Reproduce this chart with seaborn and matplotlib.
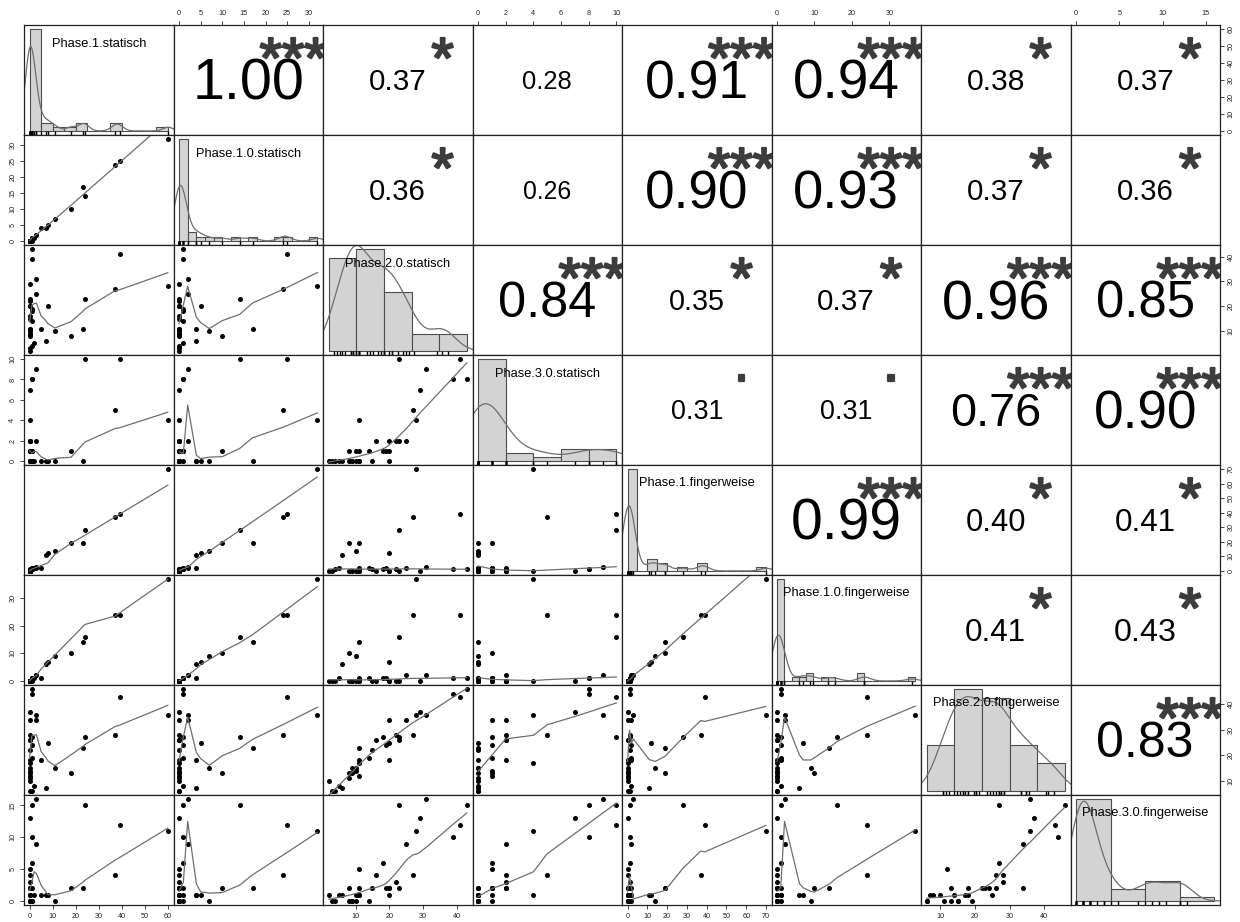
import numpy as np
import pandas as pd
import matplotlib
matplotlib.use("Agg")
import matplotlib.pyplot as plt
import matplotlib.patheffects as pe
from matplotlib.textpath import TextPath
from matplotlib.font_manager import FontProperties
import seaborn as sns

# values (34 participants, counts)
phase_1_statisch = [60, 39, 37, 24, 23, 18, 11, 8, 7, 5,
                    1, 1, 3, 0, 0, 3, 0, 0, 0, 0,
                    1, 1, 0, 0, 1, 0, 0, 0, 1, 0, 0, 0, 0, 2]
phase_1_0_statisch = [32, 25, 24, 14, 17, 10, 7, 5, 4, 4,
                      1, 1, 2, 0, 0, 2, 0, 0, 0, 0,
                      1, 1, 0, 0, 1, 0, 0, 0, 0, 0, 0, 0, 0, 1]
phase_2_0_statisch = [28, 41, 27, 23, 11, 8, 10, 20, 6, 11,
                      43, 39, 31, 29, 11, 25, 23, 22, 16, 20,
                      19, 18, 20, 10, 14, 11, 2, 3, 4, 8, 9, 9, 15, 5]
phase_3_0_statisch = [4, 10, 5, 10, 0, 1, 0, 0, 0, 0,
                      8, 8, 9, 7, 4, 2, 2, 2, 2, 2,
                      1, 1, 1, 1, 1, 1, 0, 0, 0, 0, 0, 0, 0, 0]
phase_1_fingerweise = [70, 39, 37, 28, 19, 19, 14, 12, 11, 2,
                       1, 1, 3, 0, 0, 2, 0, 1, 0, 0,
                       2, 1, 0, 0, 2, 0, 0, 0, 1, 0, 0, 0, 1, 2]
phase_1_0_fingerweise = [37, 24, 24, 16, 14, 10, 9, 7, 6, 1,
                         1, 1, 2, 0, 0, 2, 0, 0, 0, 0,
                         1, 1, 0, 0, 1, 0, 0, 0, 0, 0, 0, 0, 0, 1]
phase_2_0_fingerweise = [36, 43, 28, 27, 23, 13, 15, 25, 7, 18,
                         46, 44, 36, 37, 17, 34, 26, 28, 26, 18,
                         24, 27, 34, 14, 19, 12, 10, 6, 6, 11, 13, 15, 22, 8]
phase_3_0_fingerweise = [11, 12, 4, 15, 2, 2, 0, 1, 1, 1,
                         15, 10, 16, 13, 1, 9, 2, 3, 4, 2,
                         2, 6, 2, 1, 0, 5, 1, 0, 0, 0, 0, 0, 2, 1]

columns = ["Phase.1.statisch", "Phase.1.0.statisch", "Phase.2.0.statisch",
           "Phase.3.0.statisch", "Phase.1.fingerweise", "Phase.1.0.fingerweise",
           "Phase.2.0.fingerweise", "Phase.3.0.fingerweise"]

# printed correlation coefficients (upper triangle, row by row) and significance
cor_row1 = [1.00, 0.37, 0.28, 0.91, 0.94, 0.38, 0.37]
cor_row2 = [0.36, 0.26, 0.90, 0.93, 0.37, 0.36]
cor_row3 = [0.84, 0.35, 0.37, 0.96, 0.85]
cor_row4 = [0.31, 0.31, 0.76, 0.90]
cor_row5 = [0.99, 0.40, 0.41]
cor_row6 = [0.41, 0.43]
cor_row7 = [0.83]
sig_row1 = ["***", "*", "", "***", "***", "*", "*"]
sig_row2 = ["*", "", "***", "***", "*", "*"]
sig_row3 = ["***", "*", "*", "***", "***"]
sig_row4 = [".", ".", "***", "***"]
sig_row5 = ["***", "*", "*"]
sig_row6 = ["*", "*"]
sig_row7 = ["***"]

# histogram bin widths and axis tick steps per variable
bin_width = [5, 2, 10, 2, 5, 2, 10, 5]
tick_step = [10, 5, 10, 2, 10, 10, 10, 5]

df = pd.DataFrame(dict(zip(columns, [phase_1_statisch, phase_1_0_statisch, phase_2_0_statisch,
                                     phase_3_0_statisch, phase_1_fingerweise, phase_1_0_fingerweise,
                                     phase_2_0_fingerweise, phase_3_0_fingerweise])))
cor_rows = [cor_row1, cor_row2, cor_row3, cor_row4, cor_row5, cor_row6, cor_row7]
sig_rows = [sig_row1, sig_row2, sig_row3, sig_row4, sig_row5, sig_row6, sig_row7]


def _lowest(x, y, i, nleft, nright, rw, userw):
    n = len(x)
    xs = x[i]
    rng = x[-1] - x[0]
    h = max(xs - x[nleft], x[nright] - xs)
    h9, h1 = 0.999 * h, 0.001 * h
    w = np.zeros(n)
    a = 0.0
    j = nleft
    while j < n:
        r = abs(x[j] - xs)
        if r <= h9:
            w[j] = 1.0 if r <= h1 else (1 - (r / h) ** 3) ** 3
            if userw:
                w[j] *= rw[j]
            a += w[j]
        elif x[j] > xs:
            break
        j += 1
    nrt = j - 1
    if a <= 0:
        return y[i]
    sl = slice(nleft, nrt + 1)
    ww = w[sl] / a
    xx = x[sl]
    if h > 0:
        m = np.sum(ww * xx)
        b = xs - m
        c = np.sum(ww * (xx - m) ** 2)
        if np.sqrt(c) > 0.001 * rng:
            b /= c
            ww = ww * (b * (xx - m) + 1)
    return np.sum(ww * y[sl])


def lowess(x, y, f=2 / 3, iters=3):
    # port of R's clowess
    x = np.asarray(x, float)
    y = np.asarray(y, float)
    o = np.argsort(x, kind="mergesort")
    x, y = x[o], y[o]
    n = len(x)
    ns = max(min(int(f * n + 1e-7), n), 2)
    delta = 0.01 * (x[-1] - x[0])
    rw = np.ones(n)
    ys = np.zeros(n)
    for it in range(iters + 1):
        nleft, nright, last, i = 0, ns - 1, -1, 0
        while True:
            if nright < n - 1 and x[i] - x[nleft] > x[nright + 1] - x[i]:
                nleft += 1
                nright += 1
                continue
            ys[i] = _lowest(x, y, i, nleft, nright, rw, it > 0)
            if last < i - 1:
                denom = x[i] - x[last]
                for j in range(last + 1, i):
                    a = (x[j] - x[last]) / denom
                    ys[j] = a * ys[i] + (1 - a) * ys[last]
            last = i
            cut = x[last] + delta
            i = last + 1
            while i < n:
                if x[i] > cut:
                    break
                if x[i] == x[last]:
                    ys[i] = ys[last]
                    last = i
                i += 1
            i = max(last + 1, i - 1)
            if last >= n - 1:
                break
        res = np.abs(y - ys)
        if it == iters:
            break
        cmad = 6 * np.median(res)
        if cmad < 1e-7 * np.mean(res):
            break
        r = res / cmad
        rw = np.where(r <= 0.001, 1.0, np.where(r <= 0.999, (1 - r ** 2) ** 2, 0.0))
    return x, ys


def r_density(x):
    x = np.asarray(x, float)
    n = len(x)
    sd = x.std(ddof=1)
    q75, q25 = np.percentile(x, [75, 25])
    lo = min(sd, (q75 - q25) / 1.34)
    if lo <= 0:
        lo = sd
    bw = 0.9 * lo * n ** -0.2
    grid = np.linspace(x.min() - 3 * bw, x.max() + 3 * bw, 512)
    dens = np.exp(-0.5 * ((grid[:, None] - x[None, :]) / bw) ** 2).sum(1) / (n * bw * np.sqrt(2 * np.pi))
    return grid, dens


sns.set_style("white")
plt.rcParams["font.family"] = ["Liberation Sans", "DejaVu Sans"]
fp = FontProperties(family="Liberation Sans")

W, H, DPI = 1240, 922, 100
left, right, top, bottom = 24, 1220, 25, 905
nv = len(columns)
pw = (right - left) / nv
ph = (bottom - top) / nv
px_per_pt = DPI / 72


def ink_mid(s, size):
    ext = TextPath((0, 0), s, size=size, prop=fp).get_extents()
    return (ext.y0 + ext.y1) / 2 * px_per_pt / ph


def put_text(ax, x, y, s, size, color="black", stroke=0):
    # place so that the glyphs' ink is centred on y (axes fraction)
    t = ax.text(x, y - ink_mid(s, size), s, transform=ax.transAxes, ha="center", va="baseline",
                fontsize=size, color=color, clip_on=True)
    if stroke:
        t.set_path_effects([pe.withStroke(linewidth=stroke, foreground=color)])


lims = []
for c in columns:
    v = df[c].to_numpy()
    r = v.max() - v.min()
    lims.append((v.min() - 0.04 * r, v.max() + 0.04 * r))


def ticks_for(k):
    lo, hi = lims[k]
    t = np.arange(0, hi + tick_step[k], tick_step[k])
    return t[(t >= lo) & (t <= hi)]


big = 41.4  # font size for |r| = 1
fig = plt.figure(figsize=(W / DPI, H / DPI), dpi=DPI)

for i in range(nv):
    for j in range(nv):
        ax = fig.add_axes([(left + j * pw) / W, 1 - (top + (i + 1) * ph) / H, pw / W, ph / H])
        xv = df[columns[j]].to_numpy(dtype=float)
        yv = df[columns[i]].to_numpy(dtype=float)
        if i == j:
            bwid = bin_width[i]
            b0 = np.floor(xv.min() / bwid) * bwid
            b1 = np.ceil(xv.max() / bwid) * bwid
            breaks = np.arange(b0, b1 + bwid / 2, bwid)
            # right-closed bins like R's hist()
            edges = breaks + 1e-6
            edges[0] = breaks[0] - 1e-6
            counts, _ = np.histogram(xv, bins=edges)
            dmax = counts.max() / (len(xv) * bwid)
            sns.histplot(x=xv, bins=edges, stat="density", color="#d3d3d3", alpha=1,
                         edgecolor="#4d4d4d", linewidth=0.8, ax=ax)
            gx, gy = r_density(xv)
            sns.lineplot(x=gx, y=gy, sort=False, estimator=None, color="#6e6e6e", lw=0.9, ax=ax)
            sns.rugplot(x=xv, height=0.035, color="black", lw=0.7, ax=ax)
            span = breaks[-1] - breaks[0]
            ax.set_xlim(breaks[0] - 0.04 * span, breaks[-1] + 0.04 * span)
            ax.set_ylim(-0.04 * dmax, 1.04 * dmax)
            put_text(ax, 0.5, 0.84, columns[i], 9.3)
        elif i > j:
            sns.scatterplot(x=xv, y=yv, color="black", s=13, linewidth=0, legend=False, ax=ax)
            lx, ly = lowess(xv, yv)
            sns.lineplot(x=lx, y=ly, sort=False, estimator=None, color="#6e6e6e", lw=0.9, ax=ax)
            ax.set_xlim(*lims[j])
            ax.set_ylim(*lims[i])
        else:
            ax.set_xlim(*lims[j])
            ax.set_ylim(*lims[i])
            r = cor_rows[i][j - i - 1]
            sig = sig_rows[i][j - i - 1]
            put_text(ax, 0.5, 0.5, f"{r:.2f}", big * (abs(r) + 0.3) / 1.3)
            if sig:
                put_text(ax, 0.8, 0.79, sig, big, color="#3c3c3c", stroke=1.6)

        ax.set_xlabel("")
        ax.set_ylabel("")
        ax.set_xticks([])
        ax.set_yticks([])
        for s in ax.spines.values():
            s.set_linewidth(0.9)
            s.set_color("#222222")

        tick_kw = dict(length=3, width=0.6, labelsize=5.2, pad=2.5, colors="#222222")
        if i == 0 and j % 2 == 1:
            ax.set_xticks(ticks_for(j))
            ax.xaxis.set_ticks_position("top")
            ax.tick_params(axis="x", top=True, bottom=False, labeltop=True, labelbottom=False, **tick_kw)
        if i == nv - 1 and j % 2 == 0:
            ax.set_xticks(ticks_for(j))
            ax.tick_params(axis="x", bottom=True, labelbottom=True, **tick_kw)
        if j == 0 and i % 2 == 1:
            ax.set_yticks(ticks_for(i))
            ax.tick_params(axis="y", left=True, labelleft=True, **tick_kw)
            for lab in ax.get_yticklabels():
                lab.set_rotation(90)
                lab.set_va("center")
        if j == nv - 1 and i % 2 == 0:
            ax.set_yticks(ticks_for(i))
            ax.yaxis.set_ticks_position("right")
            ax.tick_params(axis="y", right=True, left=False, labelright=True, labelleft=False, **tick_kw)
            for lab in ax.get_yticklabels():
                lab.set_rotation(90)
                lab.set_va("center")
        if i == j:
            ax.set_xticks([])
            ax.set_yticks([])

fig.savefig("out.png", dpi=DPI)
